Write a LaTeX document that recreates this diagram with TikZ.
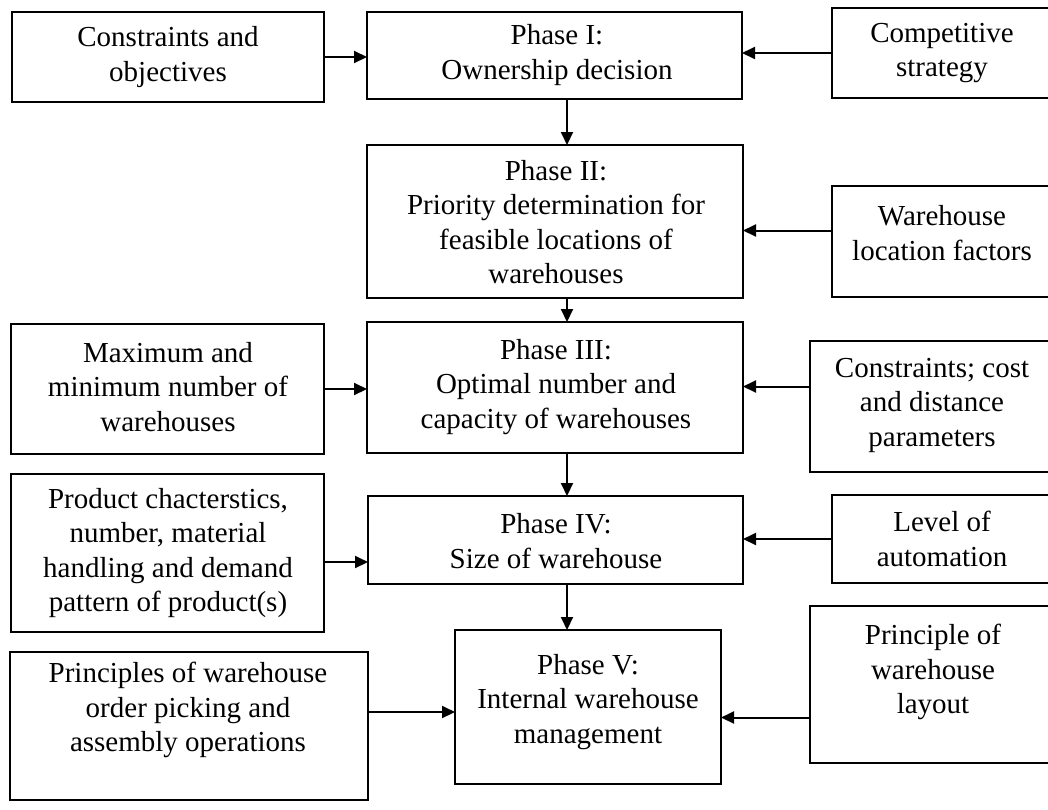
\documentclass[tikz,border=0pt]{standalone}
\usepackage{fontspec}
\setmainfont{Liberation Serif}
\usetikzlibrary{arrows.meta,fit}

\tikzset{
  box/.style={draw, line width=2.6pt, inner sep=0pt, outer sep=0pt},
  txt/.style={align=center, inner sep=0pt, font=\fontsize{29}{34.5}\selectfont},
  arr/.style={line width=2pt, -{Triangle[length=13pt,width=12pt]}},
}

\begin{document}
\begin{tikzpicture}[x=1pt,y=-1pt]
\clip (0,0) rectangle (1048,809);

% ---- boxes (corner coordinates) ----
\node[box, fit={(12,12) (324,102)}]   (cons) {};
\node[box, fit={(367,12) (742,99)}]   (p1)   {};
\node[box, fit={(832,8) (1056,98)}]   (comp) {};

\node[box, fit={(367,145) (743,298)}] (p2)   {};
\node[box, fit={(832,186) (1056,297)}] (wlf) {};

\node[box, fit={(11,324) (324,454)}]  (maxw) {};
\node[box, fit={(367,322) (743,453)}] (p3)   {};
\node[box, fit={(810,341) (1056,472)}] (ccd) {};

\node[box, fit={(11,474) (324,632)}]  (prod) {};
\node[box, fit={(368,496) (743,584)}] (p4)   {};
\node[box, fit={(832,495) (1056,583)}] (loa) {};

\node[box, fit={(10,652) (368,800)}]  (princ) {};
\node[box, fit={(455,630) (721,784)}] (p5)   {};
\node[box, fit={(810,606) (1056,763)}] (pwl) {};

% ---- texts ----
\node[txt] (t-cons)  at (168,57)  {Constraints and\\objectives};
\node[txt] (t-p1)    at (557,55)  {Phase I:\\Ownership decision};
\node[txt] (t-comp)  at (942,53)  {Competitive\\strategy};

\node[txt] (t-p2)    at (556,222) {Phase II:\\Priority determination for\\feasible locations of\\warehouses};
\node[txt] (t-wlf)   at (942,233) {Warehouse\\location factors};

\node[txt] (t-maxw)  at (168,387) {Maximum and\\minimum number of\\warehouses};
\node[txt] (t-p3)    at (556,387) {Phase III:\\Optimal number and\\capacity of warehouses};
\node[txt] (t-ccd)   at (932,405) {Constraints; cost\\and distance\\parameters};

\node[txt] (t-prod)  at (168,553) {Product chacterstics,\\number, material\\handling and demand\\pattern of product(s)};
\node[txt] (t-p4)    at (556,541) {Phase IV:\\Size of warehouse};
\node[txt] (t-loa)   at (942,539) {Level of\\automation};

\node[txt] (t-princ) at (188,710) {Principles of warehouse\\order picking and\\assembly operations};
\node[txt] (t-p5)    at (588,702) {Phase V:\\Internal warehouse\\management};
\node[txt] (t-pwl)   at (933,672) {Principle of\\warehouse\\layout};

% ---- connectors ----
\draw[arr] (cons.east) -- (cons.east -| p1.west);
\draw[arr] (comp.west) -- (comp.west -| p1.east);
\draw[arr] (p1.south -| 567,0) -- (p2.north -| 567,0);

\draw[arr] ([yshift=11pt]wlf.west) -- ([yshift=11pt]wlf.west -| p2.east);
\draw[arr] (p2.south -| 567,0) -- (p3.north -| 567,0);

\draw[arr] (maxw.east) -- (maxw.east -| p3.west);
\draw[arr] ([yshift=20pt]ccd.west) -- ([yshift=20pt]ccd.west -| p3.east);
\draw[arr] (p3.south -| 567,0) -- (p4.north -| 567,0);

\draw[arr] ([yshift=-9pt]prod.east) -- ([yshift=-9pt]prod.east -| p4.west);
\draw[arr] (loa.west) -- (loa.west -| p4.east);
\draw[arr] (p4.south -| 567,0) -- (p5.north -| 567,0);

\draw[arr] ([yshift=14pt]princ.east) -- ([yshift=14pt]princ.east -| p5.west);
\draw[arr] ([yshift=-33pt]pwl.west) -- ([yshift=-33pt]pwl.west -| p5.east);
\end{tikzpicture}
\end{document}
